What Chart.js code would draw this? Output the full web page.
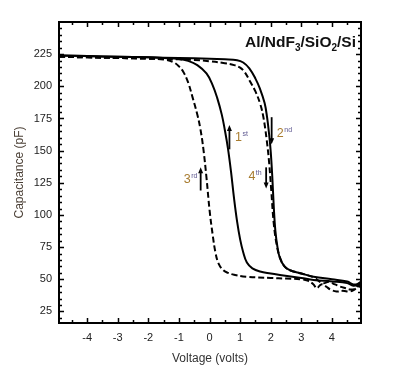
<!DOCTYPE html>
<html>
<head>
<meta charset="utf-8">
<script src="https://cdn.jsdelivr.net/npm/chart.js@4.4.0/dist/chart.umd.min.js"></script>
<style>
  html, body { margin: 0; padding: 0; background: #fff; }
  .chart-container { position: relative; width: 398px; height: 374px; }
</style>
</head>
<body>
<div class="chart-container"><canvas id="cvChart" width="398" height="374"></canvas></div>
<script>
// 1st sweep (solid, left)
const sweep1X = [-4.92, -4, -3, -2, -1.5, -1, -0.7, -0.4, -0.1, 0.1, 0.25, 0.4, 0.5, 0.6, 0.7, 0.8, 0.9, 1.0, 1.1, 1.22, 1.4, 1.65, 2.0, 2.3, 3.0, 3.4, 4.0, 4.5, 4.7, 4.85, 4.95];
const sweep1Y = [224, 223.5, 223, 222.5, 222, 221.3, 219.8, 216.5, 210, 201, 191, 178, 166, 152, 134, 113, 95, 81, 71, 63, 58.5, 56, 54.5, 53.4, 51, 49.5, 48.3, 47, 45, 46, 48];

// 2nd sweep (solid, right)
const sweep2X = [-4.92, -4, -3, -2, -1, 0, 0.5, 0.9, 1.1, 1.3, 1.5, 1.65, 1.8, 1.88, 1.95, 2.0, 2.05, 2.1, 2.15, 2.22, 2.3, 2.45, 2.63, 3.0, 3.4, 4.0, 4.5, 4.7, 4.85, 4.95];
const sweep2Y = [224, 223.5, 223, 222.5, 222, 221.5, 221, 220.3, 218.5, 214, 206, 198, 187, 176, 162, 149, 130, 106, 88, 75, 66.5, 60, 57, 54.5, 52, 50, 48.2, 46, 46.5, 48];

// 3rd sweep (dashed, left)
const sweep3X = [-4.92, -4, -3, -2, -1.5, -1.2, -1.0, -0.85, -0.7, -0.55, -0.4, -0.3, -0.2, -0.1, 0.0, 0.1, 0.2, 0.3, 0.45, 0.6, 0.8, 1.2, 2.0, 2.5, 3.0, 3.2, 3.4, 3.5, 3.65, 3.8, 3.95, 4.15, 4.35, 4.6, 4.8, 4.95];
const sweep3Y = [223, 222.5, 222, 221.5, 220.8, 219, 215.5, 211, 203, 191, 178, 167, 151, 129, 104, 85, 70, 62, 57, 55, 53.5, 52, 51, 50.5, 50, 49, 46, 43, 46, 44.5, 42, 40.5, 41, 40.5, 43, 45];

// 4th sweep (dashed, right)
const sweep4X = [-4.92, -4, -3, -2, -1, -0.5, 0, 0.5, 0.8, 1.0, 1.15, 1.32, 1.5, 1.66, 1.76, 1.87, 1.95, 2.02, 2.1, 2.2, 2.3, 2.45, 2.63, 3.0, 3.4, 3.7, 3.9, 4.1, 4.26, 4.45, 4.6, 4.75, 4.85, 4.95];
const sweep4Y = [223, 222.5, 222, 221.5, 221, 220.5, 219.5, 218, 216.5, 214.5, 211, 204, 196, 186, 176, 158, 140, 118, 93, 76, 67, 60, 57, 54.5, 51.5, 47, 48, 46, 44.4, 43, 42, 42.5, 45, 46];

const xTicks = [-4, -3, -2, -1, 0, 1, 2, 3, 4];
const yTicks = [25, 50, 75, 100, 125, 150, 175, 200, 225];

// sweep direction arrows and their labels (data units)
const arrowX = [0.65, 2.03, -0.29, 1.85];
const arrowTail = [151, 176, 119, 137];
const arrowTip = [170, 155, 137, 120.5];
const labelNum = ['1', '2', '3', '4'];
const labelSup = ['st', 'nd', 'rd', 'th'];
const labelX = [0.83, 2.2, -0.84, 1.27];
const labelY = [161, 164, 128.5, 131];

const toPoints = (xs, ys) => xs.map((x, i) => ({ x: x, y: ys[i] }));

const extras = {
    id: 'extras',
    afterDatasetsDraw(chart) {
        const { ctx, chartArea: a, scales: { x, y } } = chart;
        ctx.save();
        ctx.strokeStyle = '#000';
        ctx.lineWidth = 1.5;
        ctx.beginPath();
        // inward ticks on all four sides
        for (let v = -4.5; v <= 4.51; v += 0.5) {
            const px = Math.round(x.getPixelForValue(v)) + 0.5;
            const len = Math.abs(v % 1) < 0.01 ? 5 : 3;
            ctx.moveTo(px, a.bottom); ctx.lineTo(px, a.bottom - len);
            ctx.moveTo(px, a.top); ctx.lineTo(px, a.top + len);
        }
        for (let v = 20; v <= 245; v += 5) {
            const py = Math.round(y.getPixelForValue(v)) + 0.5;
            const len = v % 25 === 0 ? 5 : 3;
            ctx.moveTo(a.left, py); ctx.lineTo(a.left + len, py);
            ctx.moveTo(a.right, py); ctx.lineTo(a.right - len, py);
        }
        ctx.stroke();
        ctx.lineWidth = 2;
        ctx.strokeRect(a.left, a.top, a.right - a.left, a.bottom - a.top);

        // arrows
        ctx.fillStyle = '#000';
        for (let i = 0; i < arrowX.length; i++) {
            const px = x.getPixelForValue(arrowX[i]);
            const y0 = y.getPixelForValue(arrowTail[i]);
            const y1 = y.getPixelForValue(arrowTip[i]);
            const dir = y1 < y0 ? -1 : 1;
            ctx.lineWidth = 1.8;
            ctx.beginPath();
            ctx.moveTo(px, y0);
            ctx.lineTo(px, y1 - dir * 5);
            ctx.stroke();
            ctx.beginPath();
            ctx.moveTo(px, y1);
            ctx.lineTo(px - 2.5, y1 - dir * 6);
            ctx.lineTo(px + 2.5, y1 - dir * 6);
            ctx.closePath();
            ctx.fill();
        }

        // labels 1st, 2nd ...
        ctx.textBaseline = 'alphabetic';
        ctx.textAlign = 'left';
        for (let i = 0; i < labelNum.length; i++) {
            const lx = x.getPixelForValue(labelX[i]);
            const ly = y.getPixelForValue(labelY[i]) + 4.5;
            ctx.font = '12.5px "Liberation Sans", Arial, sans-serif';
            ctx.fillStyle = '#a87c30';
            ctx.fillText(labelNum[i], lx, ly);
            const w = ctx.measureText(labelNum[i]).width;
            ctx.font = '7px "Liberation Sans", Arial, sans-serif';
            ctx.fillStyle = '#5e5890';
            ctx.fillText(labelSup[i], lx + w + 0.5, ly - 5);
        }

        // sample label with subscripts
        const parts = [['Al/NdF', 0], ['3', 1], ['/SiO', 0], ['2', 1], ['/Si', 0]];
        const big = 'bold 15.5px "Liberation Sans", Arial, sans-serif';
        const small = 'bold 10px "Liberation Sans", Arial, sans-serif';
        let total = 0;
        parts.forEach(p => { ctx.font = p[1] ? small : big; total += ctx.measureText(p[0]).width; });
        let tx = 356 - total;
        const ty = 47;
        ctx.fillStyle = '#111';
        parts.forEach(p => {
            ctx.font = p[1] ? small : big;
            ctx.fillText(p[0], tx, p[1] ? ty + 3.5 : ty);
            tx += ctx.measureText(p[0]).width;
        });
        ctx.restore();
    }
};

const solid = { borderColor: '#000', borderWidth: 2, pointRadius: 0, fill: false, tension: 0.4 };
const dashed = { borderColor: '#000', borderWidth: 2, borderDash: [6, 3], pointRadius: 0, fill: false, tension: 0.4 };

const ctx = document.getElementById('cvChart').getContext('2d');
const chart = new Chart(ctx, {
    type: 'line',
    data: {
        datasets: [
            Object.assign({ label: '1st', data: toPoints(sweep1X, sweep1Y) }, solid),
            Object.assign({ label: '2nd', data: toPoints(sweep2X, sweep2Y) }, solid),
            Object.assign({ label: '3rd', data: toPoints(sweep3X, sweep3Y) }, dashed),
            Object.assign({ label: '4th', data: toPoints(sweep4X, sweep4Y) }, dashed)
        ]
    },
    options: {
        responsive: false,
        animation: false,
        devicePixelRatio: 1,
        layout: { padding: { top: 22, right: 37, left: 0, bottom: 0 } },
        plugins: { legend: { display: false }, tooltip: { enabled: false } },
        scales: {
            x: {
                type: 'linear',
                min: -4.92,
                max: 4.95,
                afterBuildTicks: s => { s.ticks = xTicks.map(v => ({ value: v })); },
                afterFit: s => { s.height = 51; },
                grid: { display: false, drawTicks: false },
                border: { display: false },
                ticks: { padding: 8, color: '#222', font: { size: 11, family: '"Liberation Sans", Arial, sans-serif' } },
                title: { display: true, text: 'Voltage (volts)', color: '#333', padding: { bottom: 8, top: 0 }, font: { size: 12, family: '"Liberation Sans", Arial, sans-serif' } }
            },
            y: {
                type: 'linear',
                min: 16,
                max: 250,
                afterBuildTicks: s => { s.ticks = yTicks.map(v => ({ value: v })); },
                afterFit: s => { s.width = 59; },
                grid: { display: false, drawTicks: false },
                border: { display: false },
                ticks: { padding: 7, color: '#222', font: { size: 11, family: '"Liberation Sans", Arial, sans-serif' } },
                title: { display: true, text: 'Capacitance (pF)', color: '#4a3f35', padding: { top: 12, bottom: 0 }, font: { size: 12, family: '"Liberation Sans", Arial, sans-serif' } }
            }
        }
    },
    plugins: [extras]
});
</script>
</body>
</html>
